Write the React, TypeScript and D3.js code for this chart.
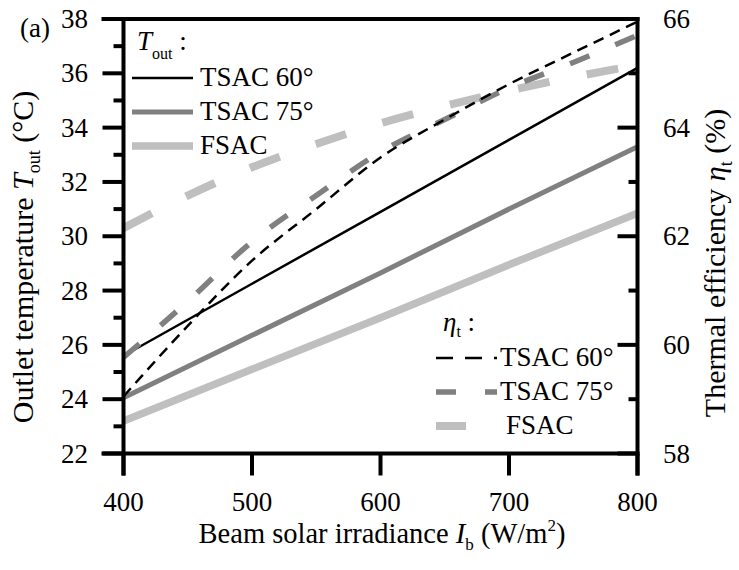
import React from "react";
import * as d3 from "d3";

// Beam solar irradiance (W/m²)
const irrStraight = [400, 500, 600, 700, 800];
const irrCurve = [400, 450, 500, 550, 600, 650, 700, 750, 800];

// Outlet temperature T_out (°C)
const toutTsac60 = [25.6, 28.25, 30.9, 33.55, 36.2];
const toutTsac75 = [24.05, 26.35, 28.65, 31.0, 33.3];
const toutFsac = [23.2, 25.1, 27.0, 28.95, 30.85];

// Thermal efficiency η_t (%)
const etaTsac60 = [59.05, 60.35, 61.55, 62.5, 63.45, 64.15, 64.8, 65.38, 65.95];
const etaTsac75 = [59.77, 60.8, 61.9, 62.75, 63.55, 64.15, 64.73, 65.2, 65.7];
const etaFsac = [62.15, 62.75, 63.27, 63.7, 64.08, 64.4, 64.68, 64.93, 65.15];

const xTicks = [400, 500, 600, 700, 800];
const leftTicks = [22, 24, 26, 28, 30, 32, 34, 36, 38];
const leftMinor = [23, 25, 27, 29, 31, 33, 35, 37];
const rightTicks = [58, 60, 62, 64, 66];
const rightMinor = [59, 61, 63, 65];

const FONT = "Liberation Serif, Times New Roman, DejaVu Serif, serif";
const BLACK = "#000000";
const GRAY = "#808080";
const LIGHT = "#bfbfbf";

export default function App() {
  const W = 739;
  const H = 570;
  const x0 = 123.5, x1 = 637.5, yTop = 19, yBot = 453.5;

  const x = d3.scaleLinear().domain([400, 800]).range([x0, x1]);
  const yL = d3.scaleLinear().domain([22, 38]).range([yBot, yTop]);
  const yR = d3.scaleLinear().domain([58, 66]).range([yBot, yTop]);

  const straight = (vals: number[]) =>
    d3.line<number>().x((_, i) => x(irrStraight[i])).y((v) => yL(v))(vals) || "";
  const curved = (vals: number[]) =>
    d3
      .line<number>()
      .curve(d3.curveMonotoneX)
      .x((_, i) => x(irrCurve[i]))
      .y((v) => yR(v))(vals) || "";

  const solidSeries = [
    { vals: toutTsac60, color: BLACK, w: 2.5 },
    { vals: toutTsac75, color: GRAY, w: 5 },
    { vals: toutFsac, color: LIGHT, w: 7.5 },
  ];
  const dashedSeries = [
    { vals: etaFsac, color: LIGHT, w: 8, dash: "32 38" },
    { vals: etaTsac75, color: GRAY, w: 5.5, dash: "21 28" },
    { vals: etaTsac60, color: BLACK, w: 2.5, dash: "11 7" },
  ];

  const topLegend = [
    { label: "TSAC 60°", color: BLACK, w: 2.5, y: 78 },
    { label: "TSAC 75°", color: GRAY, w: 5, y: 112 },
    { label: "FSAC", color: LIGHT, w: 7.5, y: 146 },
  ];
  const bottomLegend = [
    { label: "TSAC 60°", color: BLACK, w: 2.5, y: 358, dash: "17 12", tx: 500 },
    { label: "TSAC 75°", color: GRAY, w: 5.5, y: 392, dash: "20 29", tx: 500 },
    { label: "FSAC", color: LIGHT, w: 8, y: 426, dash: "30 40", tx: 506 },
  ];

  const frameW = 4;
  const txt: React.CSSProperties = { fontFamily: FONT };
  const lg = { ...txt, fontSize: 27 };

  return (
    <svg
      width={W}
      height={H}
      style={{ position: "absolute", left: 0, top: 0, background: "#fff", fontFamily: FONT }}
    >
      <rect x={0} y={0} width={W} height={H} fill="#fff" />

      {/* curves */}
      {solidSeries.map((s, i) => (
        <path key={"s" + i} d={straight(s.vals)} fill="none" stroke={s.color} strokeWidth={s.w} />
      ))}
      {dashedSeries.map((s, i) => (
        <path
          key={"d" + i}
          d={curved(s.vals)}
          fill="none"
          stroke={s.color}
          strokeWidth={s.w}
          strokeDasharray={s.dash}
        />
      ))}

      {/* frame */}
      <g stroke={BLACK} strokeWidth={frameW} fill="none">
        <line x1={x0 - 22} x2={x1 + 2} y1={yTop} y2={yTop} />
        <line x1={x0 - 22} x2={x1 + 2} y1={yBot} y2={yBot} />
        <line x1={x0} x2={x0} y1={yTop - 2} y2={yBot + 22} />
        <line x1={x1} x2={x1} y1={yTop - 2} y2={yBot + 22} />
        {leftTicks.map((t) => (
          <line key={"lt" + t} x1={x0 - 21} x2={x0} y1={yL(t)} y2={yL(t)} />
        ))}
        {leftMinor.map((t) => (
          <line key={"lm" + t} x1={x0 - 10} x2={x0} y1={yL(t)} y2={yL(t)} />
        ))}
        {rightTicks.map((t) => (
          <line key={"rt" + t} x1={x1 - 20} x2={x1} y1={yR(t)} y2={yR(t)} />
        ))}
        {rightMinor.map((t) => (
          <line key={"rm" + t} x1={x1 - 9} x2={x1} y1={yR(t)} y2={yR(t)} />
        ))}
        {xTicks.map((t) => (
          <line key={"xt" + t} x1={x(t)} x2={x(t)} y1={yBot} y2={yBot + 22} />
        ))}
      </g>

      {/* tick labels */}
      <g fill={BLACK}>
        {leftTicks.map((t) => (
          <text key={"ll" + t} x={88} y={yL(t) + 9} textAnchor="end" style={lg}>
            {t}
          </text>
        ))}
        {rightTicks.map((t) => (
          <text key={"rl" + t} x={663} y={yR(t) + 9} textAnchor="start" style={lg}>
            {t}
          </text>
        ))}
        {xTicks.map((t) => (
          <text key={"xl" + t} x={x(t)} y={511} textAnchor="middle" style={lg}>
            {t}
          </text>
        ))}
      </g>

      {/* panel tag */}
      <text x={20} y={37} style={lg}>
        (a)
      </text>

      {/* axis titles */}
      <text x={382} y={543} textAnchor="middle" style={{ ...txt, fontSize: 28.5 }}>
        Beam solar irradiance <tspan fontStyle="italic">I</tspan>
        <tspan fontSize={17} dy={7}>b</tspan>
        <tspan dy={-7}> (W/m</tspan>
        <tspan fontSize={17} dy={-12}>2</tspan>
        <tspan dy={12}>)</tspan>
      </text>
      <text transform="translate(33,257) rotate(-90)" textAnchor="middle" style={{ ...txt, fontSize: 30 }}>
        Outlet temperature <tspan fontStyle="italic">T</tspan>
        <tspan fontSize={18} dy={7}>out</tspan>
        <tspan dy={-7}> (°C)</tspan>
      </text>
      <text transform="translate(725,263) rotate(-90)" textAnchor="middle" style={{ ...txt, fontSize: 30 }}>
        Thermal efficiency <tspan fontStyle="italic">η</tspan>
        <tspan fontSize={18} dy={7}>t</tspan>
        <tspan dy={-7}> (%)</tspan>
      </text>

      {/* T_out legend */}
      <text x={137} y={50} style={lg}>
        <tspan fontStyle="italic">T</tspan>
        <tspan fontSize={16} dy={9}>out</tspan>
        <tspan dy={-9}> :</tspan>
      </text>
      {topLegend.map((l) => (
        <g key={"tl" + l.label}>
          <line x1={132} x2={193} y1={l.y} y2={l.y} stroke={l.color} strokeWidth={l.w} />
          <text x={200} y={l.y + 8} style={lg}>
            {l.label}
          </text>
        </g>
      ))}

      {/* η_t legend */}
      <text x={443} y={331} style={lg}>
        <tspan fontStyle="italic">η</tspan>
        <tspan fontSize={16} dy={6}>t</tspan>
        <tspan dy={-6}> :</tspan>
      </text>
      {bottomLegend.map((l) => (
        <g key={"bl" + l.label}>
          <line
            x1={436}
            x2={497}
            y1={l.y}
            y2={l.y}
            stroke={l.color}
            strokeWidth={l.w}
            strokeDasharray={l.dash}
          />
          <text x={l.tx} y={l.y + 8} style={lg}>
            {l.label}
          </text>
        </g>
      ))}
    </svg>
  );
}
